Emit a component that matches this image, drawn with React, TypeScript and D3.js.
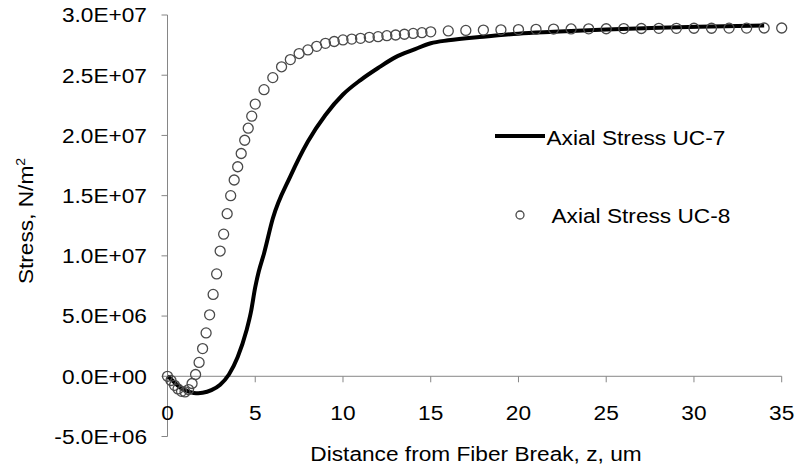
import React from "react";
import * as d3 from "d3";

const uc7Z = [0, 0.25, 0.5, 0.75, 1, 1.25, 1.5, 1.75, 2, 2.5, 3, 3.5, 4, 4.5, 4.75, 5, 5.2, 5.5, 6, 7, 8, 9, 10, 11, 12, 13, 14, 15, 16, 18, 20, 22, 25, 28, 31, 34];
const uc7Stress = [0, -3.0e5, -6.5e5, -9.5e5, -1.15e6, -1.3e6, -1.38e6, -1.4e6, -1.37e6, -1.15e6, -7e5, 1.5e5, 1.6e6, 3.8e6, 5.3e6, 7.4e6, 8.7e6, 1.02e7, 1.31e7, 1.66e7, 1.95e7, 2.17e7, 2.34e7, 2.46e7, 2.56e7, 2.65e7, 2.71e7, 2.765e7, 2.79e7, 2.82e7, 2.845e7, 2.86e7, 2.88e7, 2.895e7, 2.905e7, 2.913e7];

const uc8Z = [0, 0.2, 0.4, 0.6, 0.8, 1.0, 1.2, 1.4, 1.6, 1.8, 2.0, 2.2, 2.4, 2.6, 2.8, 3.0, 3.2, 3.4, 3.6, 3.8, 4.0, 4.2, 4.4, 4.6, 4.8, 5.0, 5.5, 6, 6.5, 7, 7.5, 8, 8.5, 9, 9.5, 10, 10.5, 11, 11.5, 12, 12.5, 13, 13.5, 14, 14.5, 15, 16, 17, 18, 19, 20, 21, 22, 23, 24, 25, 26, 27, 28, 29, 30, 31, 32, 33, 34, 35];
const uc8Stress = [0, -3.5e5, -7.5e5, -1.05e6, -1.25e6, -1.3e6, -1.1e6, -6e5, 1.5e5, 1.15e6, 2.3e6, 3.6e6, 5.1e6, 6.8e6, 8.5e6, 1.04e7, 1.18e7, 1.35e7, 1.5e7, 1.63e7, 1.74e7, 1.85e7, 1.96e7, 2.06e7, 2.16e7, 2.26e7, 2.38e7, 2.48e7, 2.57e7, 2.63e7, 2.68e7, 2.71e7, 2.74e7, 2.765e7, 2.78e7, 2.793e7, 2.8e7, 2.806e7, 2.815e7, 2.82e7, 2.828e7, 2.834e7, 2.84e7, 2.847e7, 2.853e7, 2.86e7, 2.868e7, 2.872e7, 2.875e7, 2.877e7, 2.879e7, 2.881e7, 2.883e7, 2.884e7, 2.885e7, 2.886e7, 2.887e7, 2.888e7, 2.889e7, 2.889e7, 2.89e7, 2.89e7, 2.891e7, 2.891e7, 2.892e7, 2.892e7];

const xTicks = [0, 5, 10, 15, 20, 25, 30, 35];
const yTicks = [-5e6, 0, 5e6, 1e7, 1.5e7, 2e7, 2.5e7, 3e7];

const seriesNames = ["Axial Stress UC-7", "Axial Stress UC-8"];
const xTitle = "Distance from Fiber Break, z, um";

function fmtE(v: number): string {
  if (v === 0) return "0.0E+00";
  const exp = Math.floor(Math.log10(Math.abs(v)));
  const mant = v / Math.pow(10, exp);
  const sign = exp >= 0 ? "+" : "-";
  return `${mant.toFixed(1)}E${sign}${String(Math.abs(exp)).padStart(2, "0")}`;
}

const W = 796;
const H = 467;
const FONT = "'Liberation Sans', Arial, sans-serif";
const AXIS = "#868686";
const FS = 21;
const SX = 1.08;

export default function App() {
  const x = d3.scaleLinear().domain([0, 35]).range([167.5, 781.7]);
  const y = d3.scaleLinear().domain([-5e6, 3e7]).range([436.5, 15]);
  const line = d3
    .line<number>()
    .x((_, i) => x(uc7Z[i]))
    .y((d) => y(d))
    .curve(d3.curveMonotoneX);
  const y0 = y(0);

  const stretched = (cx: number, cy: number) =>
    `translate(${cx},${cy}) scale(${SX},1) translate(${-cx},${-cy})`;

  return (
    <svg width={W} height={H} style={{ position: "absolute", left: 0, top: 0, background: "#fff" }} fontFamily={FONT}>
      <rect width={W} height={H} fill="#fff" />
      {/* y axis */}
      <line x1={x(0)} x2={x(0)} y1={y(3e7)} y2={y(-5e6)} stroke={AXIS} strokeWidth={1} />
      {yTicks.map((t) => (
        <g key={t}>
          <line x1={x(0) - 6} x2={x(0)} y1={y(t)} y2={y(t)} stroke={AXIS} strokeWidth={1} />
          <text
            x={147}
            y={y(t)}
            dy="0.35em"
            textAnchor="end"
            fontSize={FS}
            fill="#000"
            transform={stretched(147, y(t))}
          >
            {fmtE(t)}
          </text>
        </g>
      ))}
      {/* x axis at zero */}
      <line x1={x(0)} x2={x(35)} y1={y0} y2={y0} stroke={AXIS} strokeWidth={1} />
      {xTicks.map((t) => (
        <g key={t}>
          <line x1={x(t)} x2={x(t)} y1={y0} y2={y0 + 6} stroke={AXIS} strokeWidth={1} />
          <text x={x(t)} y={420} textAnchor="middle" fontSize={FS} fill="#000" transform={stretched(x(t), 420)}>
            {t}
          </text>
        </g>
      ))}
      {/* axis titles */}
      <text x={476} y={461} textAnchor="middle" fontSize={FS} fill="#000" transform={stretched(476, 461)}>
        {xTitle}
      </text>
      <text
        transform={`translate(33,221) rotate(-90) scale(${SX},1)`}
        textAnchor="middle"
        fontSize={FS}
        fill="#000"
      >
        Stress, N/m
        <tspan fontSize={13} dy={-8}>
          2
        </tspan>
      </text>
      {/* UC-7 line */}
      <path d={line(uc7Stress) || ""} fill="none" stroke="#000" strokeWidth={4} strokeLinejoin="round" />
      {/* UC-8 markers */}
      {uc8Z.map((z, i) => (
        <circle key={i} cx={x(z)} cy={y(uc8Stress[i])} r={5} fill="none" stroke="#4a4a4a" strokeWidth={1.3} />
      ))}
      {/* legend */}
      <line x1={495} x2={545} y1={136} y2={136} stroke="#000" strokeWidth={4} />
      <text x={546.5} y={145} fontSize={FS} fill="#000" transform={stretched(546.5, 145)}>
        {seriesNames[0]}
      </text>
      <circle cx={520} cy={215} r={4} fill="none" stroke="#4a4a4a" strokeWidth={1.3} />
      <text x={551.5} y={223} fontSize={FS} fill="#000" transform={stretched(551.5, 223)}>
        {seriesNames[1]}
      </text>
    </svg>
  );
}
